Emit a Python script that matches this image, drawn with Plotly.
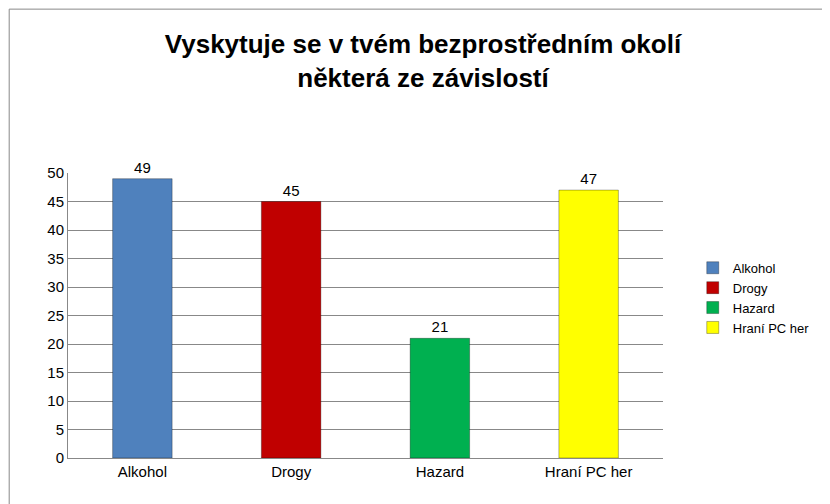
import plotly.graph_objects as go

categories = ["Alkohol", "Drogy", "Hazard", "Hraní PC her"]
values = [49, 45, 21, 47]
colors = ["#4F81BD", "#C00000", "#00B050", "#FFFF00"]

fig = go.Figure()
for cat, val, col in zip(categories, values, colors):
    fig.add_trace(go.Bar(
        x=[cat], y=[val], name=cat,
        marker=dict(color=col, line=dict(color="rgba(0,0,0,0.3)", width=1)),
        width=0.4, offset=-0.2,
        text=[val], textposition="outside",
        textfont=dict(size=15, color="black"),
        cliponaxis=False,
    ))

fig.update_layout(
    width=830, height=504,
    font=dict(family="Liberation Sans, Arial", size=15, color="black"),
    title=dict(text="<b>Vyskytuje se v tvém bezprostředním okolí<br>některá ze závislostí</b>",
               x=0.5, y=0.91, xanchor="center", font=dict(size=26)),
    plot_bgcolor="white", paper_bgcolor="white",
    margin=dict(l=60, r=175, t=165, b=54),
    barmode="overlay",
    legend=dict(x=1.05, y=0.72, yanchor="top", font=dict(size=13),
                tracegroupgap=8, itemwidth=30),
    xaxis=dict(showgrid=False, showline=True, linecolor="#888888",
               tickfont=dict(size=15)),
    yaxis=dict(range=[0, 50], dtick=5, showgrid=True, gridcolor="#888888",
               showline=True, linecolor="#888888", tickfont=dict(size=15),
               zeroline=False),
    shapes=[dict(type="rect", xref="paper", yref="paper",
                 x0=-60 / 595 + 0.002, y0=-54 / 285 + 0.004,
                 x1=(830 - 60) / 595 - 0.002, y1=(504 - 54) / 285 - 0.004,
                 line=dict(color="#888888", width=1))],
)

fig.write_html("out.html")
